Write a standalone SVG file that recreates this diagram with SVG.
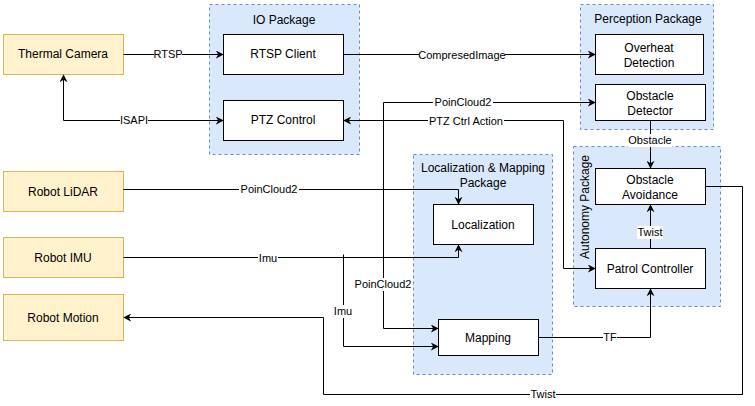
<svg xmlns="http://www.w3.org/2000/svg" width="755" height="406" viewBox="0 0 755 406">
<defs>
<marker id="arr" viewBox="0 0 10 10" refX="9" refY="5" markerWidth="8" markerHeight="8" markerUnits="userSpaceOnUse" orient="auto-start-reverse">
<path d="M0,0 L10,5 L0,10 L3,5 z" fill="#000"/>
</marker>
</defs>
<style>
text{font-family:"Liberation Sans",Arial,sans-serif;fill:#000;text-anchor:middle}
.n{font-size:12px}
.l{font-size:11px}
.src{fill:#fff2cc;stroke:#d6b656;stroke-width:1}
.pkg{fill:#dae8fc;stroke:#6c8ebf;stroke-width:1;stroke-dasharray:3 3}
.box{fill:#fff;stroke:#000;stroke-width:1}
.e{fill:none;stroke:#000;stroke-width:1}
.lb{fill:#fff}
</style>
<rect width="755" height="406" fill="#fff"/>

<g id="pkg-io"><rect class="pkg" x="209.5" y="4.5" width="150" height="150"/><text class="n" x="284" y="24">IO Package</text></g>
<g id="pkg-perception"><rect class="pkg" x="580.5" y="4.5" width="133" height="125"/><text class="n" x="648" y="23">Perception Package</text></g>
<g id="pkg-locmap"><rect class="pkg" x="413.5" y="154.5" width="139" height="220"/><text class="n" x="483" y="172">Localization &amp; Mapping</text><text class="n" x="483" y="187">Package</text></g>
<g id="pkg-autonomy"><rect class="pkg" x="573.5" y="146.5" width="147" height="160"/><text class="n" transform="translate(589,207) rotate(-90)">Autonomy Package</text></g>

<g id="thermal-camera"><rect class="src" x="3.5" y="34.5" width="120" height="40"/><text class="n" x="63" y="58">Thermal Camera</text></g>
<g id="robot-lidar"><rect class="src" x="3.5" y="171.5" width="120" height="40"/><text class="n" x="63" y="196">Robot LiDAR</text></g>
<g id="robot-imu"><rect class="src" x="3.5" y="237.5" width="120" height="40"/><text class="n" x="63" y="262">Robot IMU</text></g>
<g id="robot-motion"><rect class="src" x="3.5" y="294.5" width="120" height="46"/><text class="n" x="63" y="322">Robot Motion</text></g>

<g id="rtsp-client"><rect class="box" x="223.5" y="34.5" width="120" height="40"/><text class="n" x="283" y="58">RTSP Client</text></g>
<g id="ptz-control"><rect class="box" x="223.5" y="100.5" width="120" height="40"/><text class="n" x="283" y="124">PTZ Control</text></g>
<g id="overheat-detection"><rect class="box" x="595.5" y="34.5" width="108" height="40"/><text class="n" x="649" y="52">Overheat</text><text class="n" x="649" y="67">Detection</text></g>
<g id="obstacle-detector"><rect class="box" x="595.5" y="84.5" width="110" height="36"/><text class="n" x="650" y="100">Obstacle</text><text class="n" x="650" y="115">Detector</text></g>
<g id="obstacle-avoidance"><rect class="box" x="595.5" y="168.5" width="110" height="36"/><text class="n" x="650" y="184">Obstacle</text><text class="n" x="650" y="199">Avoidance</text></g>
<g id="patrol-controller"><rect class="box" x="595.5" y="248.5" width="110" height="40"/><text class="n" x="650" y="273">Patrol Controller</text></g>
<g id="localization"><rect class="box" x="433.5" y="204.5" width="100" height="40"/><text class="n" x="483" y="229">Localization</text></g>
<g id="mapping"><rect class="box" x="438.5" y="319.5" width="100" height="36"/><text class="n" x="488" y="342">Mapping</text></g>

<g id="connectors">
<path class="e" d="M123.5,54.5 H223" marker-end="url(#arr)"/>
<path class="e" d="M63.5,75 V120.5 H223" marker-start="url(#arr)" marker-end="url(#arr)"/>
<path class="e" d="M343.5,54.5 H595" marker-end="url(#arr)"/>
<path class="e" d="M123.5,189.5 H383.5 V102.5 H595" marker-end="url(#arr)"/>
<path class="e" d="M383.5,189.5 V328.5 H438" marker-end="url(#arr)"/>
<path class="e" d="M123.5,189.5 H458.5 V204" marker-end="url(#arr)"/>
<path class="e" d="M123.5,257.5 H458.5 V245" marker-end="url(#arr)"/>
<path class="e" d="M343.5,254.5 V346.5 H438" marker-end="url(#arr)"/>
<path class="e" d="M595,268.5 H563.5 V120.5 H344" marker-start="url(#arr)" marker-end="url(#arr)"/>
<path class="e" d="M650.5,121 V168" marker-end="url(#arr)"/>
<path class="e" d="M650.5,248 V205" marker-end="url(#arr)"/>
<path class="e" d="M538.5,337.5 H650.5 V289" marker-end="url(#arr)"/>
<path class="e" d="M705.5,186.5 H742.5 V394.5 H323.5 V317.5 H124" marker-end="url(#arr)"/>
</g>

<g id="labels">
<rect class="lb" x="154" y="48" width="28" height="13"/><text class="l" x="168" y="58">RTSP</text>
<rect class="lb" x="120" y="114" width="28" height="13"/><text class="l" x="134" y="124">ISAPI</text>
<rect class="lb" x="419" y="48" width="86" height="13"/><text class="l" x="462" y="59">CompresedImage</text>
<rect class="lb" x="433" y="96" width="60" height="13"/><text class="l" x="463" y="106">PoinCloud2</text>
<rect class="lb" x="428" y="114" width="76" height="13"/><text class="l" x="466" y="125">PTZ Ctrl Action</text>
<rect class="lb" x="239" y="183" width="60" height="13"/><text class="l" x="269" y="193">PoinCloud2</text>
<rect class="lb" x="258" y="251" width="20" height="13"/><text class="l" x="268" y="262">Imu</text>
<rect class="lb" x="353" y="278" width="60" height="13"/><text class="l" x="383" y="288">PoinCloud2</text>
<rect class="lb" x="333" y="305" width="20" height="13"/><text class="l" x="343" y="315">Imu</text>
<rect class="lb" x="628" y="134" width="44" height="13"/><text class="l" x="650" y="144">Obstacle</text>
<rect class="lb" x="637" y="226" width="26" height="13"/><text class="l" x="650" y="236">Twist</text>
<rect class="lb" x="603" y="331" width="14" height="13"/><text class="l" x="610" y="341">TF</text>
<rect class="lb" x="530" y="388" width="26" height="13"/><text class="l" x="543" y="398">Twist</text>
</g>
</svg>
